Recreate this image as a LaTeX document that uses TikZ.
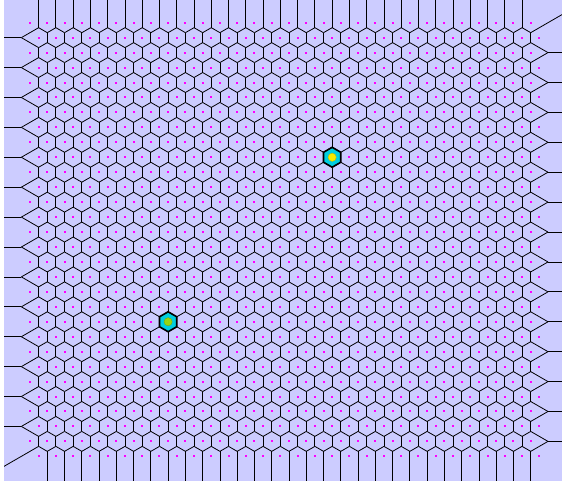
\documentclass[tikz,border=0pt]{standalone}
\definecolor{lav}{RGB}{204,204,255}
\definecolor{dotc}{RGB}{255,0,255}
\definecolor{cellc}{RGB}{0,206,224}
\definecolor{sunA}{RGB}{245,235,0}
\definecolor{sunB}{RGB}{150,214,20}
\begin{document}
\begin{tikzpicture}[x=1pt,y=-1pt,
  edge/.style={line width=0.8pt,black},
  seedstyle/.style={fill=dotc},
  cellstyle/.style={fill=cellc,draw=black,line width=1.6pt,line join=miter},
  diskstyle/.style={line width=0.4pt}]
\pgfmathsetmacro{\Dx}{17.266}
\pgfmathsetmacro{\Hy}{14.953}
\pgfmathsetmacro{\Av}{4.98433}
\pgfmathsetmacro{\Xo}{30}
\pgfmathsetmacro{\Yo}{22.7}
\useasboundingbox (0,0) rectangle (562,481);
\fill[white] (0,0) rectangle (562,481);
\fill[lav] (4,0) rectangle (562,481);
\begin{scope}
\clip (4,0) rectangle (562,481);
% vertical edges
\foreach \r in {0,...,29}{
  \pgfmathsetmacro{\yr}{\Yo+\r*\Hy}
  \pgfmathsetmacro{\off}{mod(\r,2)*0.5*\Dx}
  \ifnum\r=0 \def\ya{-5}\else \pgfmathsetmacro{\ya}{\yr-\Av}\fi
  \ifnum\r=29 \def\yb{490}\else \pgfmathsetmacro{\yb}{\yr+\Av}\fi
  \foreach \k in {0,...,28}{
    \pgfmathsetmacro{\xm}{\Xo+\off+(\k+0.5)*\Dx}
    \draw[edge] (\xm,\ya) -- (\xm,\yb);
  }
}
% diagonal edges
\foreach \r in {0,...,28}{
  \pgfmathsetmacro{\yr}{\Yo+\r*\Hy}
  \ifodd\r
    \foreach \k in {0,...,29}{
      \pgfmathsetmacro{\xk}{\Xo+0.5*\Dx+\k*\Dx}
      \ifnum\k=0
        \draw[edge] (\xk-\Dx,\yr) -- (\xk,\yr+2*\Av);
      \else\ifnum\k=29
        \draw[edge] (\xk-0.5*\Dx,\yr+\Av) -- (\xk+0.5*\Dx,\yr+3*\Av);
      \else
        \draw[edge] (\xk-0.5*\Dx,\yr+\Av) -- (\xk,\yr+2*\Av);
      \fi\fi
      \ifnum\k<29
        \draw[edge] (\xk,\yr+2*\Av) -- (\xk+0.5*\Dx,\yr+\Av);
      \fi
    }
  \else
    \foreach \k in {0,...,29}{
      \pgfmathsetmacro{\xk}{\Xo+\k*\Dx}
      \ifnum\k>0
        \draw[edge] (\xk-0.5*\Dx,\yr+\Av) -- (\xk,\yr+2*\Av);
      \fi
      \ifnum\k=0
        \ifnum\r=28
          \draw[edge] (\xk+0.5*\Dx,\yr+\Av) -- (\xk-3*\Dx,\yr+8*\Av);
        \else
          \draw[edge] (\xk+0.5*\Dx,\yr+\Av) -- (\xk-0.5*\Dx,\yr+3*\Av);
        \fi
      \else\ifnum\k=29
        \ifnum\r=0
          \draw[edge] (\xk,\yr+2*\Av) -- (\xk+3.5*\Dx,\yr-5*\Av);
        \else
          \draw[edge] (\xk,\yr+2*\Av) -- (\xk+\Dx,\yr);
        \fi
      \else
        \draw[edge] (\xk,\yr+2*\Av) -- (\xk+0.5*\Dx,\yr+\Av);
      \fi\fi
    }
  \fi
}
% horizontal boundary edges
\foreach \r in {1,3,...,27}
  \draw[edge] (\Xo-0.5*\Dx,\Yo+\r*\Hy) -- (-5,\Yo+\r*\Hy);
\foreach \r in {2,4,...,28}
  \draw[edge] (\Xo+30*\Dx,\Yo+\r*\Hy) -- (570,\Yo+\r*\Hy);
\end{scope}
% seeds
\foreach \r in {0,...,29}{
  \pgfmathsetmacro{\yr}{\Yo+\r*\Hy}
  \pgfmathsetmacro{\off}{mod(\r,2)*0.5*\Dx}
  \foreach \k in {0,...,29}{
    \pgfmathsetmacro{\xk}{\Xo+\off+\k*\Dx}
    \fill[seedstyle] (\xk-1,\yr-1) rectangle (\xk+1,\yr+1);
  }
}
% highlighted cells
\coordinate (hA) at (332.155,157.277);
\coordinate (hB) at (168.128,321.76);
\foreach \c/\col in {hA/sunA,hB/sunB}{
  \begin{scope}[shift={(\c)}]
    \draw[cellstyle] (0,-2*\Av) -- (0.5*\Dx,-\Av) -- (0.5*\Dx,\Av) -- (0,2*\Av)
      -- (-0.5*\Dx,\Av) -- (-0.5*\Dx,-\Av) -- cycle;
    \filldraw[diskstyle,fill=\col,draw=\col!80!black] (0,0) circle (4.1);
  \end{scope}
}
\end{tikzpicture}
\end{document}
